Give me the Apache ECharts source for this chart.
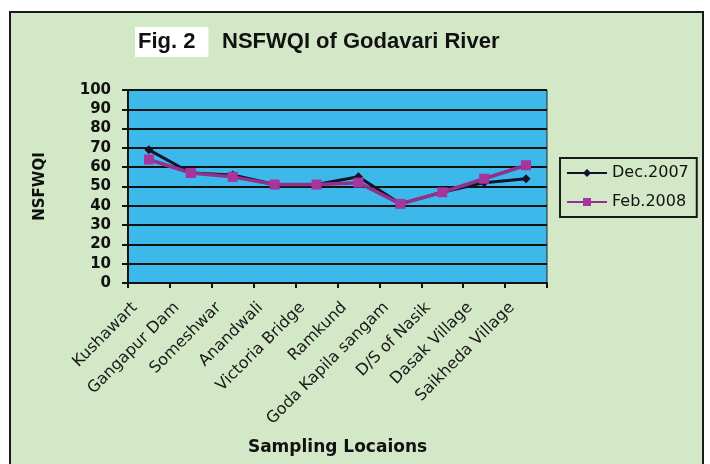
<!DOCTYPE html>
<html>
<head>
<meta charset="utf-8">
<script src="https://cdn.jsdelivr.net/npm/echarts@6/dist/echarts.min.js"></script>
<style>
html,body{margin:0;padding:0;background:#fff;}
#c{width:710px;height:464px;}
</style>
</head>
<body>
<div id="c"></div>
<script>
const categories = ['Kushawart', 'Gangapur Dam', 'Someshwar', 'Anandwali', 'Victoria Bridge', 'Ramkund', 'Goda Kapila sangam', 'D/S of Nasik', 'Dasak Village', 'Saikheda Village'];
const dec2007 = [69, 57, 56, 51, 51, 55, 41, 47, 52, 54];
const feb2008 = [64, 57, 55, 51, 51, 52, 41, 47, 54, 61];
const seriesNames = ['Dec.2007', 'Feb.2008'];

const chart = echarts.init(document.getElementById('c'));
chart.setOption({
  backgroundColor: '#ffffff',
  animation: false,
  graphic: [{
    type: 'rect', z: -10, silent: true,
    shape: { x: 10, y: 12, width: 693, height: 470 },
    style: { fill: '#d3e8c6', stroke: '#1a1a1a', lineWidth: 2 }
  }],
  title: [{
    text: 'Fig. 2', left: 135, top: 27,
    backgroundColor: '#ffffff', padding: [4, 13, 4, 3],
    textStyle: { fontFamily: 'Liberation Sans', fontWeight: 'bold', fontSize: 22, color: '#111' }
  }, {
    text: 'NSFWQI of Godavari River', left: 222, top: 31, padding: 0,
    textStyle: { fontFamily: 'Liberation Sans', fontWeight: 'bold', fontSize: 22, color: '#111' }
  }],
  legend: {
    orient: 'vertical', left: 560, top: 158,
    data: seriesNames,
    backgroundColor: '#d3e8c6', borderColor: '#1a1a1a', borderWidth: 2,
    padding: [7, 8, 7, 6], itemWidth: 40, itemHeight: 10, itemGap: 13,
    textStyle: { fontFamily: 'DejaVu Sans', fontSize: 16, color: '#111' }
  },
  grid: {
    left: 128, right: 163, top: 90, bottom: 181,
    show: true, backgroundColor: '#3db8ea', borderColor: '#222', borderWidth: 1
  },
  xAxis: {
    type: 'category', data: categories, boundaryGap: true,
    name: 'Sampling Locaions', nameLocation: 'middle', nameGap: 156,
    nameTextStyle: { fontFamily: 'DejaVu Sans', fontWeight: 'bold', fontSize: 17, color: '#111' },
    axisLine: { lineStyle: { color: '#111', width: 2 } },
    axisTick: { show: true, length: 5, lineStyle: { color: '#111', width: 2 } },
    axisLabel: {
      interval: 0, rotate: 45, margin: 8, padding: [0, 20, 0, 0],
      fontFamily: 'DejaVu Sans', fontSize: 16, color: '#1a1a1a'
    }
  },
  yAxis: {
    type: 'value', min: 0, max: 100, interval: 10,
    name: 'NSFWQI', nameLocation: 'middle', nameGap: 80, nameRotate: 90,
    nameTextStyle: { fontFamily: 'DejaVu Sans', fontWeight: 'bold', fontSize: 15, color: '#111' },
    axisLine: { show: true, lineStyle: { color: '#111', width: 2 } },
    axisTick: { show: true, length: 6, lineStyle: { color: '#111', width: 2 } },
    axisLabel: { margin: 17, fontFamily: 'DejaVu Sans', fontWeight: 'bold', fontSize: 15, color: '#111' },
    splitLine: { show: true, lineStyle: { color: '#111', width: 2 } }
  },
  series: [{
    name: seriesNames[0], type: 'line', data: dec2007,
    symbol: 'diamond', symbolSize: 9, showSymbol: true,
    itemStyle: { color: '#121228' },
    lineStyle: { color: '#121228', width: 3 }
  }, {
    name: seriesNames[1], type: 'line', data: feb2008,
    symbol: 'rect', symbolSize: 10, showSymbol: true,
    itemStyle: { color: '#a8349e' },
    lineStyle: { color: '#92308e', width: 3.5 }
  }]
});
</script>
</body>
</html>
